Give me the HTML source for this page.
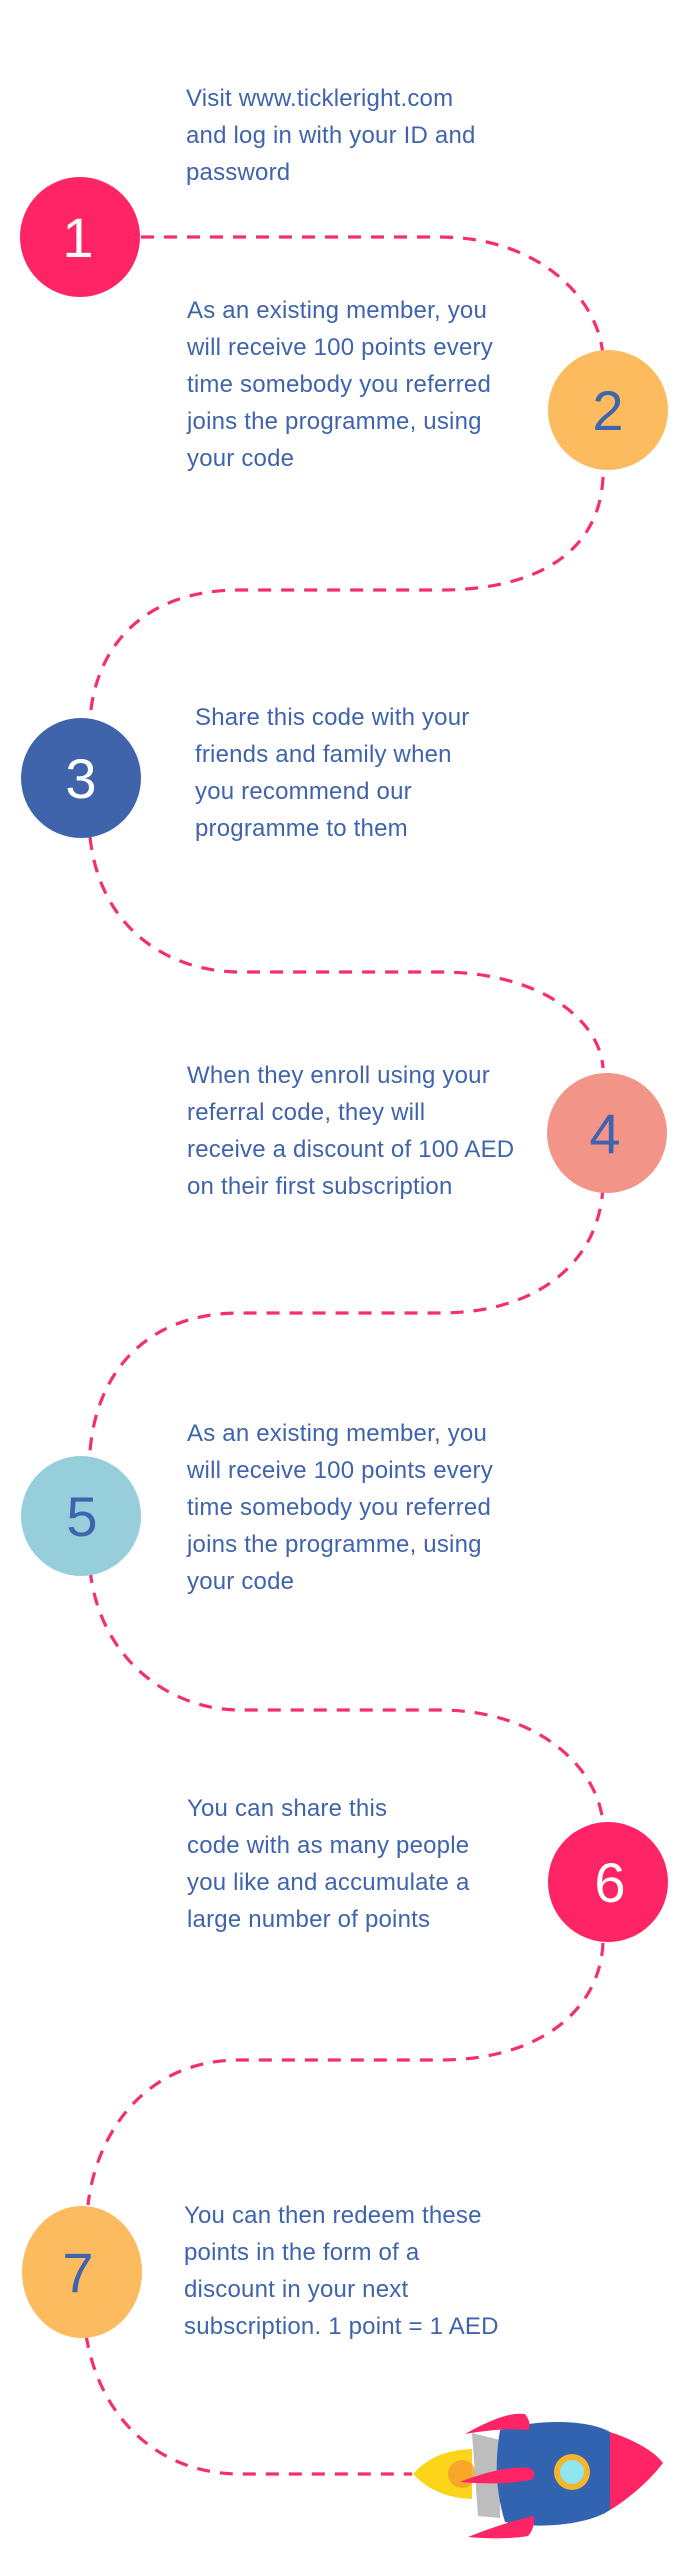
<!DOCTYPE html>
<html><head><meta charset="utf-8"><style>
html,body{margin:0;padding:0;background:#fff;}
.wrap{position:relative;width:684px;height:2560px;overflow:hidden;}
.t{position:absolute;font-family:"Liberation Sans",sans-serif;font-size:24px;line-height:37px;color:#3f64ad;letter-spacing:0.2px;white-space:nowrap;}
svg{position:absolute;left:0;top:0;}
</style></head><body><div class="wrap">
<svg width="684" height="2560" viewBox="0 0 684 2560">
<g fill="none" stroke="#f52f6b" stroke-width="3.2" stroke-dasharray="13 10">
<path d="M141,237 H440 C540,237 600,300 603,357"/>
<path d="M603,477 C600,550 540,590 440,590 H240 C140,590 95,650 90,719"/>
<path d="M90,837 C100,930 170,972 240,972 H440 C540,972 600,1020 603,1068"/>
<path d="M603,1186 C600,1260 540,1313 440,1313 H240 C140,1313 95,1380 90,1452"/>
<path d="M90,1570 C100,1660 170,1710 240,1710 H440 C540,1710 600,1770 603,1825"/>
<path d="M603,1943 C600,2010 540,2060 440,2060 H240 C140,2060 95,2140 88,2205"/>
<path d="M86,2335 C100,2420 160,2474 240,2474 H412"/>
</g>
<g font-family="Liberation Sans, sans-serif" font-size="56" text-anchor="middle">
<circle cx="80" cy="237" r="60" fill="#ff2465"/><text x="78" y="257" fill="#fff">1</text>
<circle cx="608" cy="410" r="60" fill="#fbbb5e"/><text x="608" y="430" fill="#3f64ad">2</text>
<circle cx="81" cy="778" r="60" fill="#3f64ab"/><text x="81" y="798" fill="#fff">3</text>
<circle cx="607" cy="1133" r="60" fill="#f39488"/><text x="605" y="1153" fill="#3f64ad">4</text>
<circle cx="81" cy="1516" r="60" fill="#96cfdb"/><text x="82" y="1536" fill="#3f64ad">5</text>
<circle cx="608" cy="1882" r="60" fill="#ff2465"/><text x="610" y="1902" fill="#fff">6</text>
<ellipse cx="82" cy="2272" rx="60" ry="66" fill="#fbbb5e"/><text x="78" y="2292" fill="#3f64ad">7</text>
</g>
<g>
<path d="M413,2474 C430,2455 450,2450 472,2449 L472,2499 C450,2498 430,2492 413,2474 Z" fill="#fcd41a"/>
<ellipse cx="462" cy="2474" rx="14" ry="14" fill="#f59a2a" opacity="0.8"/>
<path d="M472,2433 L500,2440 L500,2518 L478,2516 Z" fill="#bdbdbd"/>
<path d="M500,2430 C540,2418 590,2420 610,2432 L610,2510 C590,2524 540,2530 505,2522 C495,2490 495,2460 500,2430 Z" fill="#3263b0"/>
<path d="M610,2432 C635,2440 655,2452 663,2463 C650,2480 630,2498 610,2510 Z" fill="#ff2465"/>
<path d="M465,2434 C490,2420 510,2412 525,2414 C530,2420 531,2428 528,2430 C510,2428 490,2430 465,2434 Z" fill="#ff2465"/>
<path d="M460,2482 C490,2470 515,2466 530,2468 C536,2472 535,2478 530,2480 C510,2484 485,2484 460,2482 Z" fill="#ff2465"/>
<path d="M468,2537 C490,2528 515,2520 534,2516 C535,2524 532,2532 528,2536 C510,2539 490,2539 468,2537 Z" fill="#ff2465"/>
<circle cx="572" cy="2472" r="18" fill="#f7b52c"/>
<circle cx="572" cy="2472" r="12" fill="#8fe6ef"/>
</g>
</svg>
<div class="t" style="left:186px;top:80px">Visit www.tickleright.com<br>and log in with your ID and<br>password</div>
<div class="t" style="left:187px;top:292px">As an existing member, you<br>will receive 100 points every<br>time somebody you referred<br>joins the programme, using<br>your code</div>
<div class="t" style="left:195px;top:699px">Share this code with your<br>friends and family when<br>you recommend our<br>programme to them</div>
<div class="t" style="left:187px;top:1057px">When they enroll using your<br>referral code, they will<br>receive a discount of 100 AED<br>on their first subscription</div>
<div class="t" style="left:187px;top:1415px">As an existing member, you<br>will receive 100 points every<br>time somebody you referred<br>joins the programme, using<br>your code</div>
<div class="t" style="left:187px;top:1790px">You can share this<br>code with as many people<br>you like and accumulate a<br>large number of points</div>
<div class="t" style="left:184px;top:2197px">You can then redeem these<br>points in the form of a<br>discount in your next<br>subscription. 1 point = 1 AED</div>
</div></body></html>
